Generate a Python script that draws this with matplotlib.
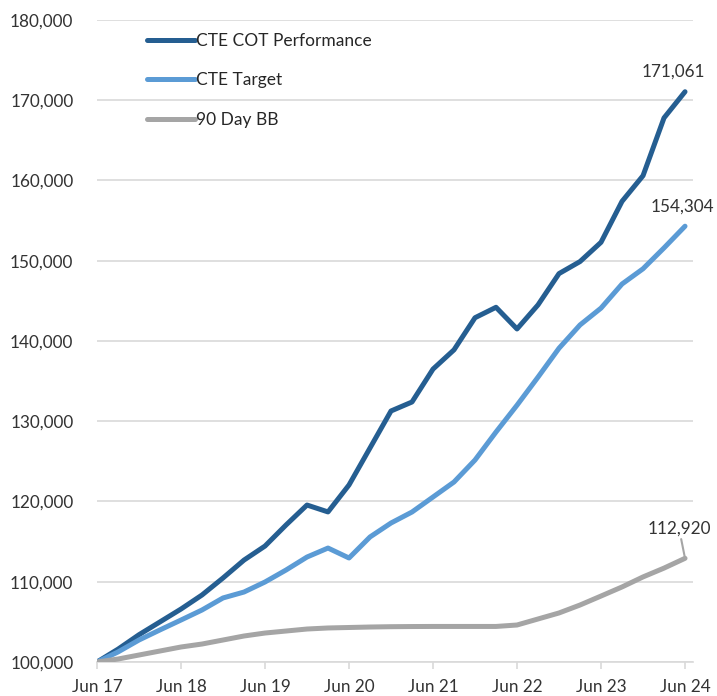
import matplotlib
matplotlib.use("Agg")
import matplotlib.pyplot as plt
import numpy as np
from matplotlib.ticker import FuncFormatter

plt.rcParams['font.family'] = ['Lato', 'DejaVu Sans']

# Quarterly values, Jun 2017 .. Jun 2024
cot = [100000, 101600, 103400, 105000, 106600, 108350, 110470, 112700, 114450,
       117070, 119560, 118700, 122060, 126670, 131280, 132400, 136500, 138900,
       142900, 144200, 141500, 144500, 148400, 149900, 152300, 157400, 160600,
       167800, 171061]
target = [100000, 101250, 102740, 104000, 105230, 106480, 107980, 108720, 109970,
          111460, 113080, 114200, 112960, 115580, 117320, 118690, 120560, 122430,
          125170, 128660, 132000, 135500, 139100, 142000, 144100, 147100, 149000,
          151600, 154304]
bb = [100000, 100370, 100870, 101370, 101870, 102240, 102740, 103240, 103610,
      103860, 104110, 104240, 104300, 104360, 104400, 104420, 104430, 104430,
      104430, 104430, 104610, 105360, 106110, 107100, 108220, 109350, 110600,
      111700, 112920]
year_labels = ["Jun 17", "Jun 18", "Jun 19", "Jun 20", "Jun 21", "Jun 22", "Jun 23", "Jun 24"]
series_names = ["CTE COT Performance", "CTE Target", "90 Day BB"]
colors = ["#255E91", "#5B9BD5", "#A5A5A5"]

W, H = 717, 696
fig = plt.figure(figsize=(W / 100, H / 100), dpi=100)
ax = fig.add_axes([97 / W, (H - 662) / H, (693 - 97) / W, (662 - 20) / H])

x = np.arange(len(cot))
for vals, name, c in zip([cot, target, bb], series_names, colors):
    ax.plot(x, vals, color=c, lw=3.6, label=name, solid_capstyle='round',
            solid_joinstyle='round', zorder=3)

ax.set_xlim(0, 28.38)
ax.set_ylim(100000, 180000)
ax.set_yticks(np.arange(100000, 180001, 10000))
ax.yaxis.set_major_formatter(FuncFormatter(lambda v, p: f"{int(v):,}"))
ax.set_xticks(np.arange(0, len(cot), 4))
ax.set_xticklabels(year_labels)

ax.grid(axis='y', color='#D9D9D9', lw=1.2, zorder=0)
for s in ['top', 'right', 'left']:
    ax.spines[s].set_visible(False)
ax.spines['bottom'].set_color('#D9D9D9')
ax.spines['bottom'].set_linewidth(1.2)
ax.tick_params(axis='y', length=0, pad=17, labelsize=12.3, labelcolor='#333333')
ax.tick_params(axis='x', length=5, width=1.2, color='#D9D9D9', pad=7,
               labelsize=12.3, labelcolor='#333333')

# data labels
txtc = '#333333'
ax.annotate(f"{cot[-1]:,}", (x[-1], cot[-1]), xytext=(-12, 12), textcoords='offset pixels',
            ha='center', va='bottom', fontsize=12.3, color=txtc)
ax.annotate(f"{target[-1]:,}", (x[-1], target[-1]), xytext=(-3, 12), textcoords='offset pixels',
            ha='center', va='bottom', fontsize=12.3, color=txtc)
ax.annotate(f"{bb[-1]:,}", (x[-1], bb[-1]), xytext=(-6, 22), textcoords='offset pixels',
            ha='center', va='bottom', fontsize=12.3, color=txtc,
            arrowprops=dict(arrowstyle='-', color='#A5A5A5', lw=1.5, shrinkA=0, shrinkB=0))

leg = ax.legend(loc='upper left', bbox_to_anchor=(43 / 596, 1 - 6 / 642), frameon=False,
                fontsize=12.5, handlelength=2.75, handletextpad=0.1, labelspacing=1.35,
                borderaxespad=0, labelcolor='#262626')

fig.savefig("out.png", dpi=100)
